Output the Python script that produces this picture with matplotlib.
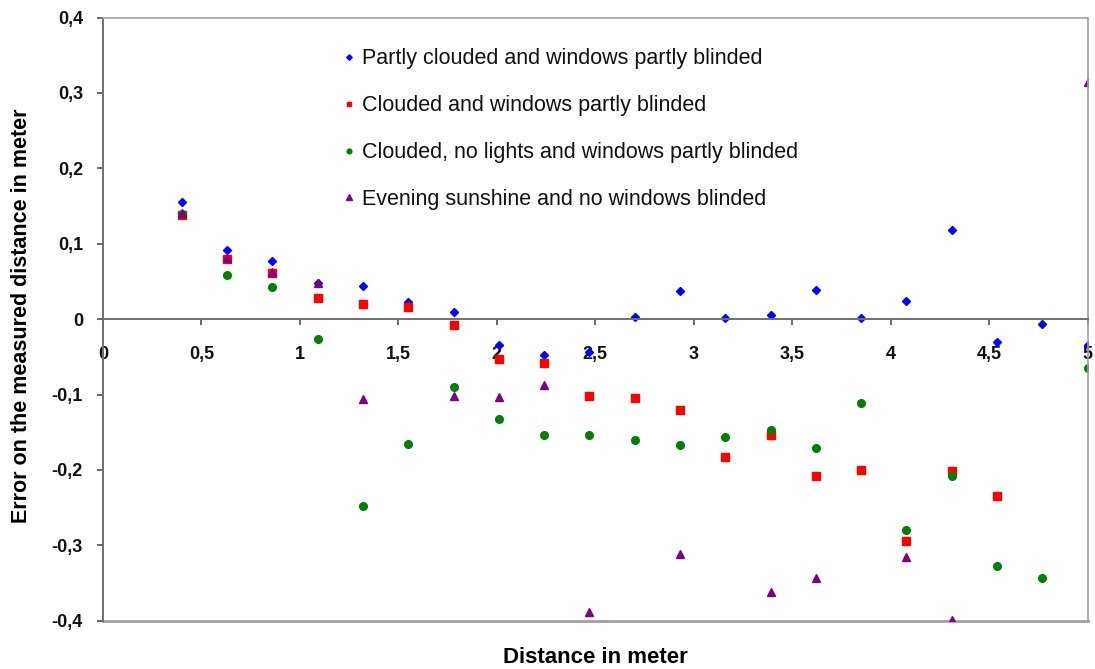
import numpy as np
import matplotlib
matplotlib.use("Agg")
import matplotlib.pyplot as plt
from matplotlib.ticker import FuncFormatter, MultipleLocator

plt.rcParams['font.family'] = ['Liberation Sans', 'DejaVu Sans']

distance = [0.4, 0.63, 0.86, 1.09, 1.32, 1.55, 1.78, 2.01, 2.24, 2.47, 2.7,
            2.93, 3.16, 3.39, 3.62, 3.85, 4.08, 4.31, 4.54, 4.77, 5.0]
nan = np.nan
partly_clouded = [0.155, 0.092, 0.077, 0.048, 0.044, 0.023, 0.010, -0.034, -0.048, -0.043, 0.003,
                  0.037, 0.001, 0.005, 0.039, 0.002, 0.024, 0.118, -0.030, -0.006, -0.034]
clouded = [0.138, 0.080, 0.061, 0.028, 0.020, 0.016, -0.008, -0.053, -0.058, -0.102, -0.104,
           -0.121, -0.183, -0.154, -0.208, -0.200, -0.294, -0.202, -0.235, nan, nan]
clouded_no_lights = [0.139, 0.059, 0.042, -0.026, -0.248, -0.165, -0.090, -0.133, -0.154, -0.154, -0.160,
                     -0.167, -0.157, -0.147, -0.171, -0.111, -0.280, -0.208, -0.328, -0.343, -0.065]
evening = [0.141, 0.081, 0.062, 0.048, -0.106, nan, -0.102, -0.103, -0.087, -0.389, nan,
           -0.312, nan, -0.362, -0.343, nan, -0.315, -0.399, nan, nan, 0.315]

labels = ["Partly clouded and windows partly blinded",
          "Clouded and windows partly blinded",
          "Clouded, no lights and windows partly blinded",
          "Evening sunshine and no windows blinded"]

fig = plt.figure(figsize=(10.95, 6.69), dpi=100)
ax = fig.add_axes([0.0941, 0.0722, 0.8991, 0.9016])

ax.plot(distance, partly_clouded, linestyle='none', marker='D', ms=4.5, color='#0000FF', label=labels[0])
ax.plot(distance, clouded, linestyle='none', marker='s', ms=5.3, color='#FF0000', label=labels[1])
ax.plot(distance, clouded_no_lights, linestyle='none', marker='o', ms=5.5, color='#008000', label=labels[2])
ax.plot(distance, evening, linestyle='none', marker='^', ms=6, color='#800080', label=labels[3])

ylim = (-0.4, 0.4)
xlim = (0, 5)
ax.set_xlim(*xlim)
ax.set_ylim(*ylim)

fmt = FuncFormatter(lambda v, p: ('%g' % round(v, 2)).replace('.', ','))
ax.xaxis.set_major_locator(MultipleLocator(0.5))
ax.yaxis.set_major_locator(MultipleLocator(0.1))
ax.xaxis.set_major_formatter(fmt)
ax.yaxis.set_major_formatter(fmt)

# frame
for s in ['top', 'right']:
    ax.spines[s].set_color('#a0a0a0')
    ax.spines[s].set_linewidth(1.2)
ax.spines['left'].set_color('#707070')
ax.spines['left'].set_linewidth(1.4)
ax.spines['bottom'].set_position(('data', 0))
ax.spines['bottom'].set_color('#707070')
ax.spines['bottom'].set_linewidth(1.4)
ax.axhline(ylim[0], color='#a0a0a0', lw=2.0, clip_on=False, zorder=0.5)

ax.tick_params(axis='both', direction='out', length=4.5, width=1.2, color='#505050',
               labelsize=13, labelcolor='#111111')
ax.tick_params(axis='x', pad=15)
ax.tick_params(axis='y', pad=10)
for t in ax.get_xticklabels() + ax.get_yticklabels():
    t.set_fontweight('bold')

ax.set_xlabel('Distance in meter', fontsize=16, fontweight='bold')
ax.set_ylabel('Error on the measured distance in meter', fontsize=15.5, fontweight='bold')
ax.xaxis.set_label_coords(0.5, -0.043)
ax.yaxis.set_label_coords(-0.072, 0.505)

leg = ax.legend(loc='upper left', bbox_to_anchor=(0.237, 0.963), frameon=False,
                fontsize=15.5, markerscale=0.62, handlelength=0.4, handletextpad=0.4,
                labelspacing=1.2, borderaxespad=0)
for t in leg.get_texts():
    t.set_color('#111111')

fig.savefig('out.png', dpi=100)
